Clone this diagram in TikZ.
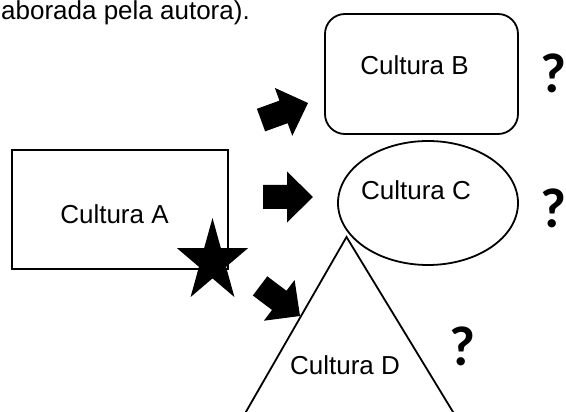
\documentclass[tikz,border=0pt]{standalone}
\usepackage{fontspec}
\setmainfont{Liberation Sans}
\newfontfamily\qfont{Carlito}
\usetikzlibrary{shapes.geometric,calc}
\begin{document}
\begin{tikzpicture}[x=1pt,y=-1pt,
  shapeline/.style={draw, line width=1.8pt, inner sep=0pt},
  lbl/.style={font=\fontsize{26}{31}\selectfont, inner sep=0pt, anchor=base},
  qmark/.style={font=\qfont\bfseries\fontsize{56}{60}\selectfont, inner sep=0pt, anchor=base},
  blockarrow/.pic={\fill (0,0) -- (-26,25.5) -- (-26,12) -- (-50,12) -- (-50,-12) -- (-26,-12) -- (-26,-25.5) -- cycle;}
]
\useasboundingbox (0,0) rectangle (566,412);
\clip (0,0) rectangle (566,412);
\fill[white] (0,0) rectangle (566,412);

% shapes
\node[shapeline, minimum width=216pt, minimum height=119pt] (ca) at (120,209.5) {};
\node[shapeline, rounded corners=20pt, minimum width=193pt, minimum height=120pt] (cb) at (421.5,74) {};
\node[shapeline, ellipse, minimum width=180pt, minimum height=124pt] (cc) at (428,203) {};
\coordinate (dtop) at (346.5,237);
\coordinate (dl) at (235.5,430);
\coordinate (dr) at (464,430);
\draw[line width=1.8pt, line join=miter] (dl) -- (dtop) -- (dr);

% labels
\node[lbl] (ta) at (114.5,223) {Cultura A};
\node[lbl] (tb) at (414.5,75) {Cultura B};
\node[lbl] (tc) at (416,200) {Cultura C};
\node[lbl] (td) at (345,374) {Cultura D};
\node[lbl, anchor=base east] (cap) at (250,19.5) {aborada pela autora).};

% question marks
\node[qmark] (q1) at (553.5,93) {?};
\node[qmark] (q2) at (553.5,227) {?};
\node[qmark] (q3) at (462.5,365) {?};

% star
\fill[shift={(212.5,261.7)}, xscale=37.3, yscale=43.7]
  (-90:1) -- (-54:0.382) -- (-18:1) -- (18:0.382) -- (54:1) -- (90:0.382)
  -- (126:1) -- (162:0.382) -- (198:1) -- (234:0.382) -- cycle;

% block arrows
\pic[rotate=20] at (308,103) {blockarrow};
\pic at (313,197) {blockarrow};
\pic[rotate=-37] at (300,316) {blockarrow};
\end{tikzpicture}
\end{document}
